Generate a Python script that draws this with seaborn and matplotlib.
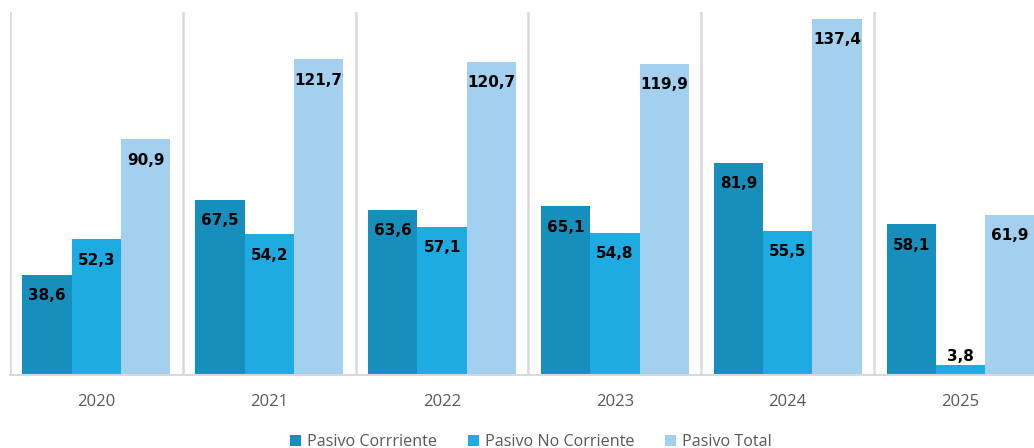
import matplotlib
matplotlib.use("Agg")
import matplotlib.pyplot as plt
import seaborn as sns
import pandas as pd

years = ["2020", "2021", "2022", "2023", "2024", "2025"]
series = ["Pasivo Corrriente", "Pasivo No Corriente", "Pasivo Total"]
corriente = [38.6, 67.5, 63.6, 65.1, 81.9, 58.1]
no_corriente = [52.3, 54.2, 57.1, 54.8, 55.5, 3.8]
total = [90.9, 121.7, 120.7, 119.9, 137.4, 61.9]
colors = ["#178FBD", "#1DABE2", "#A2D0EE"]

rows = []
for name, vals in zip(series, [corriente, no_corriente, total]):
    for y, v in zip(years, vals):
        rows.append({"year": y, "series": name, "value": v})
df = pd.DataFrame(rows)

sns.set_theme(style="white")
plt.rcParams["font.family"] = ["Open Sans", "DejaVu Sans"]

fig = plt.figure(figsize=(10.34, 4.48), dpi=100)
ax = fig.add_axes([10 / 1034, 1 - 375 / 448, 1037 / 1034, 363 / 448])

sns.barplot(data=df, x="year", y="value", hue="series", palette=colors,
            width=0.856, gap=0, saturation=1, linewidth=0, errorbar=None,
            ax=ax, legend=True)

ax.set_xlim(-0.5, 5.5)
ax.set_ylim(0, 140)
ax.set_xlabel("")
ax.set_ylabel("")
ax.set_yticks([])
for s in ["top", "right", "left"]:
    ax.spines[s].set_visible(False)
ax.spines["bottom"].set_color("#D9D9D9")
ax.spines["bottom"].set_linewidth(1.5)

ax.set_xticks([i - 0.5 for i in range(7)], minor=True)
ax.xaxis.grid(True, which="minor", color="#D9D9D9", linewidth=1.8)
ax.xaxis.grid(False, which="major")
ax.tick_params(axis="x", which="both", length=0, pad=14, labelsize=12,
               labelcolor="#595959")

for cont in ax.containers:
    for bar in cont:
        h = bar.get_height()
        xc = bar.get_x() + bar.get_width() / 2
        if h < 10:
            off = 6.5
        else:
            off = -15
        ax.annotate(f"{h:.1f}".replace(".", ","), xy=(xc, h),
                    xytext=(0, off), textcoords="offset points",
                    ha="center", va="center", fontsize=11,
                    fontweight="bold", color="black",
                    family=["DejaVu Sans"])

handles, labels = ax.get_legend_handles_labels()
ax.get_legend().remove()
fig.legend(handles, labels, loc="center", bbox_to_anchor=(531 / 1034, 1 - 442 / 448),
           ncol=3, frameon=False, fontsize=11.6, labelcolor="#595959",
           handlelength=0.68, handleheight=0.68, handletextpad=0.37,
           columnspacing=1.93, borderpad=0)

fig.savefig("out.png", dpi=100)
